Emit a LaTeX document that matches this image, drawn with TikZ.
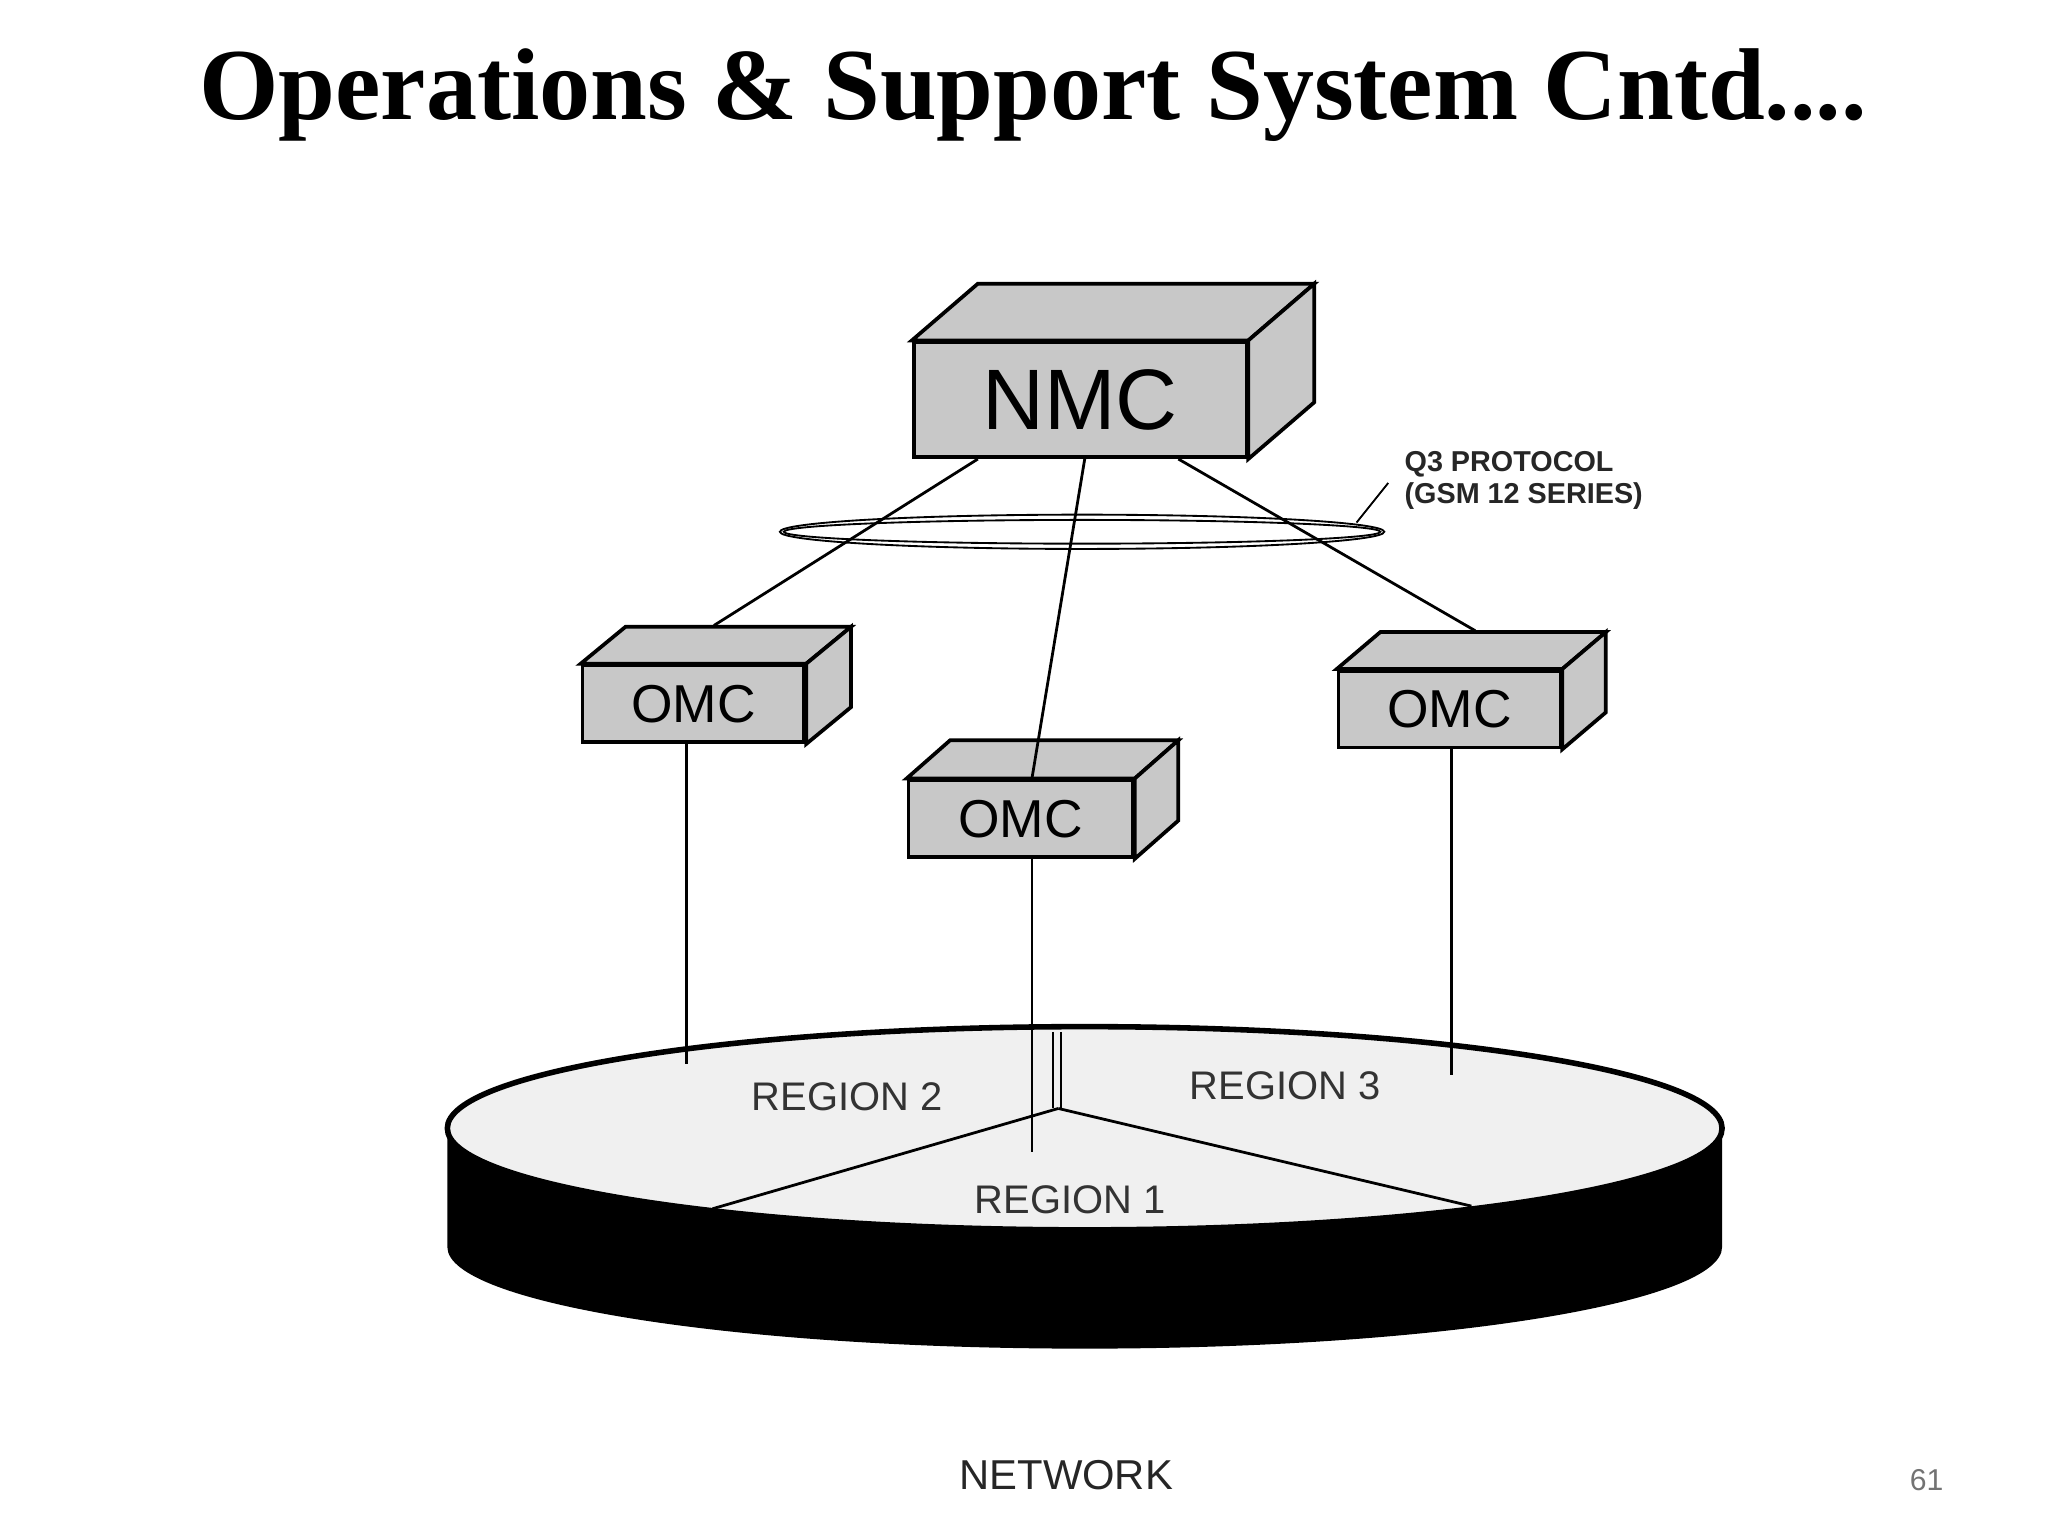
\documentclass[tikz,border=0pt]{standalone}
\usepackage{fontspec}
\setmainfont{Liberation Serif}
\newfontfamily\labelfont{Liberation Sans}
\usetikzlibrary{calc}
\definecolor{boxC}{RGB}{200,200,200}
\definecolor{diskC}{RGB}{240,240,240}
\tikzset{
    unit/.style   = {draw=black, thick, fill=boxC, inner sep=0pt, font=\labelfont},
    link/.style   = {draw=black, semithick},
    region/.style = {font=\labelfont\fontsize{8.6}{10}\selectfont, text=black!80},
}
% opts, name, x0, y0 (front top-left), w, h, dx, dy, text, font size
\newcommand{\PlaceUnit}[9]{%
    \node[unit, anchor=north west, minimum width=#4, minimum height=#5,
          font=\labelfont\fontsize{#9}{#9}\selectfont] (#1) at (#2,#3) {#8};
    \draw[thick, fill=boxC] (#1.north west) -- ++(#6,#7) -- ($(#1.north east)+(#6,#7)$)
        -- (#1.north east) -- cycle;
    \draw[thick, fill=boxC] (#1.north east) -- ++(#6,#7) -- ($(#1.south east)+(#6,#7)$)
        -- (#1.south east) -- cycle;
}
\begin{document}
\begin{tikzpicture}[x=0.01cm, y=-0.01cm]
    \useasboundingbox (0,0) rectangle (1552,1164);
    % title
    \node[font=\bfseries\fontsize{22}{25}\selectfont] (title) at (783,72) {Operations \& Support System Cntd....};

    % disk
    \fill[black] (339,855) -- (339,945) arc[start angle=180, end angle=0, x radius=483, y radius=77]
        -- (1305,855) -- cycle;
    \draw[very thick, fill=diskC] (822,855) ellipse[x radius=483, y radius=77];
    \coordinate (hub) at (802,840);
    \draw[link] (hub) -- (540,916);
    \draw[link] (hub) -- (1115,914);
    \draw[link] (798,782) -- (798,840);
    \draw[link] (804,782) -- (804,840);
    \node[region] (r2) at (642,831) {REGION 2};
    \node[region] (r3) at (974,823) {REGION 3};
    \node[region] (r1) at (811,909) {REGION 1};

    % management units
    \PlaceUnit{nmc}{691}{258}{2.52cm}{0.87cm}{50}{-43}{NMC}{18.5}
    \PlaceUnit{omcL}{440}{503}{1.68cm}{0.58cm}{34}{-28}{OMC}{11.5}
    \PlaceUnit{omcM}{687}{590}{1.70cm}{0.58cm}{33}{-29}{OMC}{11.5}
    \PlaceUnit{omcR}{1013}{507}{1.68cm}{0.58cm}{33}{-28}{OMC}{11.5}

    % Q3 links
    \coordinate (tL) at (541,474);
    \coordinate (tR) at (1118,478);
    \draw[link] ($(nmc.south west)+(50,0)$) -- (tL);
    \draw[link] ($(nmc.south west)+(131,0)$) -- ($(omcM.north west)+(95,0)$);
    \draw[link] ($(nmc.south west)+(202,0)$) -- (tR);
    \draw[thin] (820,403) ellipse[x radius=229, y radius=13];
    \draw[thin] (820,403) ellipse[x radius=226, y radius=9];
    \coordinate (q3tip) at (1028,396);
    \node[font=\labelfont\bfseries\fontsize{6.2}{7}\selectfont, align=left, anchor=west, text=black!85]
        (q3) at (1052,364) {Q3 PROTOCOL\\(GSM 12 SERIES)};
    \draw[thin] (q3tip) -- (1052,366);

    % drops to regions
    \coordinate (dL) at (520,806);
    \coordinate (dM) at (782,873);
    \coordinate (dR) at (1100,815);
    \draw[link] ($(omcL.south west)+(80,0)$) -- (dL);
    \draw[link] ($(omcM.south west)+(95,0)$) -- (dM);
    \draw[link] ($(omcR.south west)+(87,0)$) -- (dR);

    \node[font=\labelfont\fontsize{9}{10}\selectfont, text=black!85] (net) at (808,1118) {NETWORK};
    \node[font=\labelfont\fontsize{6.5}{8}\selectfont, text=black!55] (page) at (1460,1122) {61};
\end{tikzpicture}
\end{document}
